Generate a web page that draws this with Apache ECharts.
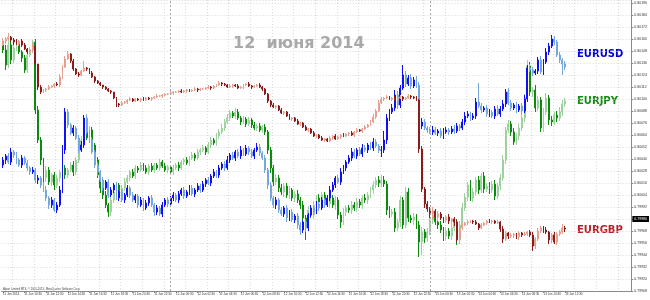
<!DOCTYPE html>
<html><head><meta charset="utf-8">
<script src="https://cdn.jsdelivr.net/npm/echarts/dist/echarts.min.js"></script>
<style>html,body{margin:0;padding:0;background:#fff}#c{width:650px;height:300px}</style>
</head><body><div id="c"></div>
<script>
// Time-axis labels (every 8th M15 bar)
const tickLabels = ["11 Jun 2014","11 Jun 10:30","11 Jun 12:30","11 Jun 14:30","11 Jun 16:30","11 Jun 18:30","11 Jun 20:30","11 Jun 22:30",
"12 Jun 00:30","12 Jun 02:30","12 Jun 04:30","12 Jun 06:30","12 Jun 08:30","12 Jun 10:30","12 Jun 12:30","12 Jun 14:30","12 Jun 16:30","12 Jun 18:30","12 Jun 20:30","12 Jun 22:30",
"13 Jun 00:30","13 Jun 02:30","13 Jun 04:30","13 Jun 06:30","13 Jun 08:30","13 Jun 10:30","13 Jun 12:30"];
const dayStartBars = [62, 158];          // period separators (bar index)
const slotCount = 233;                   // bars + empty chart shift on the right

// EURGBP, points of 0.00001
const gbpOpen0 = 80155;
const gbpClose = [80158,80160,80162,80159,80157,80155,80158,80154,80150,80147,
80149,80153,80135,80112,80107,80109,80110,80112,80113,80115,
80114,80122,80132,80140,80145,80138,80130,80125,80124,80128,
80131,80130,80126,80122,80118,80116,80114,80112,80110,80108,
80107,80101,80095,80094,80096,80097,80099,80100,80098,80100,
80099,80100,80099,80101,80100,80101,80102,80103,80103,80104,
80105,80105,80106,80107,80107,80108,80107,80108,80109,80108,
80109,80110,80109,80110,80110,80111,80112,80111,80113,80114,
80116,80115,80114,80112,80113,80114,80113,80111,80112,80114,
80115,80113,80112,80113,80114,80112,80110,80105,80098,80094,
80092,80093,80089,80086,80087,80083,80080,80081,80078,80075,
80076,80072,80069,80070,80066,80063,80064,80061,80059,80060,
80058,80061,80063,80060,80062,80064,80063,80065,80066,80064,
80067,80069,80068,80070,80072,80074,80077,80082,80088,80096,
80100,80101,80102,80100,80101,80099,80101,80102,80100,80101,
80103,80102,80101,80099,80050,80010,79995,79990,79985,79988,
79982,79985,79981,79979,79982,79978,79980,79977,79960,79971,
79974,79976,79977,79978,79977,79975,79971,79974,79976,79978,
79977,79978,79976,79977,79970,79960,79966,79963,79964,79965,
79962,79966,79964,79965,79967,79964,79953,79960,79968,79971,
79969,79967,79959,79964,79957,79965,79967,79971,79970];
const gbpHiW = [3,2,4,1,2,3,1,2,2,1, 2,3,1,0,2,1,1,2,1,1, 2,3,2,3,3,1,2,1,2,1, 7,1,1,2,1,1,1,0,1,1,
1,0,1,1,2,1,1,2,1,1, 1,1,2,1,1,1,1,2,1,1, 1,1,2,1,1,1,2,1,1,1, 1,2,1,1,1,1,2,1,1,1,
2,1,1,1,2,1,1,2,1,1, 1,2,1,1,1,2,1,1,1,1, 2,1,1,2,1,1,2,1,1,2, 1,1,2,1,1,2,1,1,2,1,
1,2,1,2,1,1,2,1,1,2, 1,2,1,1,2,1,2,3,2,3, 2,1,2,1,1,2,1,2,1,1, 2,1,1,2,1,3,2,3,2,4,
2,3,2,1,2,3,1,2,2,3, 2,1,2,1,1,2,1,2,1,1, 2,1,1,2,1,3,2,1,2,1, 1,2,1,2,1,2,3,2,3,2,
2,3,1,2,3,2,2,4,2];
const gbpLoW = [2,3,1,2,3,1,2,2,1,2, 1,2,2,3,2,1,2,1,1,2, 1,2,2,1,1,2,2,1,2,1, 1,2,1,1,2,1,1,2,1,1,
2,1,3,2,1,1,2,1,1,1, 1,2,1,1,1,2,1,1,1,2, 1,1,1,2,1,1,1,1,2,1, 1,1,2,1,1,1,1,2,1,1,
1,2,1,1,1,2,1,1,1,2, 1,1,2,1,1,1,2,1,2,2, 1,2,1,1,2,1,1,2,1,1, 2,1,1,2,1,1,2,1,1,2,
1,1,2,1,1,2,1,1,2,1, 2,1,1,2,1,1,1,1,2,1, 1,2,1,1,2,1,1,1,2,1, 1,2,1,1,4,3,4,3,4,5,
3,4,2,3,2,3,2,4,3,2, 2,1,2,1,2,1,2,1,1,2, 1,2,1,1,3,4,2,3,2,3, 2,3,2,1,2,2,5,3,2,2,
3,2,4,3,2,3,2,2,3];

// EURUSD, points of 0.00001
const usdOpen0 = 135835;
const usdClose = [135840,135844,135838,135848,135845,135840,135835,135842,135837,135832,
135828,135830,135820,135822,135815,135810,135802,135795,135800,135790,
135795,135810,135850,135888,135875,135867,135872,135862,135850,135855,
135882,135868,135860,135848,135835,135828,135820,135812,135818,135805,
135810,135815,135802,135808,135800,135805,135812,135805,135800,135804,
135795,135800,135792,135797,135802,135795,135788,135792,135786,135795,
135800,135796,135802,135805,135800,135806,135810,135804,135808,135812,
135806,135810,135814,135810,135816,135820,135817,135824,135828,135825,
135832,135836,135832,135840,135845,135842,135848,135844,135850,135846,
135852,135848,135844,135850,135853,135847,135842,135830,135815,135802,
135795,135800,135790,135786,135792,135782,135788,135780,135784,135775,
135770,135778,135772,135785,135792,135788,135796,135792,135800,135795,
135802,135810,135815,135822,135818,135828,135832,135838,135842,135848,
135844,135850,135846,135852,135850,135855,135852,135858,135854,135850,
135850,135860,135882,135888,135892,135905,135895,135912,135925,135916,
135922,135914,135920,135915,135874,135878,135872,135870,135868,135870,
135867,135869,135864,135868,135870,135868,135871,135869,135874,135872,
135878,135884,135886,135882,135884,135898,135894,135890,135892,135886,
135888,135884,135891,135886,135891,135896,135908,135897,135892,135895,
135890,135894,135889,135901,135932,135930,135927,135929,135940,135928,
135938,135948,135954,135961,135958,135945,135940,135936,135933];
const usdHiW = [3,2,3,4,2,3,2,3,2,3, 2,3,2,3,2,3,4,2,3,2, 3,4,5,4,3,2,3,2,3,4, 3,4,2,3,2,3,2,3,2,3,
3,2,3,2,3,2,3,2,3,2, 2,3,2,3,2,3,2,3,2,3, 2,3,2,3,2,3,2,3,2,3, 3,2,3,2,3,2,3,2,3,2,
3,2,3,4,2,3,2,3,4,2, 3,2,3,2,4,3,2,3,2,3, 2,3,2,3,2,3,2,3,2,3, 3,2,3,2,3,2,3,2,3,2,
3,4,3,2,3,4,3,2,3,4, 3,2,3,4,3,2,3,4,3,2, 4,9,4,3,4,5,4,3,10,4, 3,4,3,4,3,4,3,2,3,4,
3,2,3,4,3,2,3,4,3,2, 3,4,3,2,3,4,19,3,2,3, 3,2,3,4,3,4,3,4,3,2, 3,2,3,4,3,4,3,2,3,4,
3,4,3,4,3,2,3,2,3];
const usdLoW = [3,4,2,3,3,4,2,3,2,3, 3,2,3,4,3,2,3,4,3,2, 3,2,3,4,3,2,3,2,3,2, 3,2,3,2,3,4,2,3,2,3,
2,3,2,3,2,3,2,3,2,3, 3,2,3,2,3,2,4,3,2,3, 2,3,2,3,2,3,2,3,2,3, 2,3,2,3,2,3,2,3,2,3,
3,2,3,2,3,2,3,2,3,2, 2,3,2,3,2,3,2,3,4,3, 3,4,3,2,3,4,3,2,3,4, 5,3,4,3,2,3,2,3,2,3,
2,3,2,3,2,3,2,3,2,3, 2,3,2,3,2,3,2,3,2,3, 7,3,4,3,2,3,4,3,2,3, 2,3,2,3,2,3,2,3,2,3,
2,3,2,3,2,3,2,3,2,3, 2,3,2,3,2,3,2,3,2,3, 3,2,3,2,3,2,3,2,3,2, 3,2,3,2,3,2,3,2,3,2,
3,2,3,2,3,2,3,11,3];

// EURJPY, points of 0.001
const jpyOpen0 = 138455;
const jpyClose = [138450,138435,138455,138440,138452,138456,138448,138442,138430,138445,
138450,138458,138390,138360,138340,138322,138330,138318,138325,138315,
138322,138328,138332,138325,138330,138335,138328,138340,138350,138360,
138368,138362,138370,138355,138340,138325,138312,138305,138295,138288,
138300,138308,138315,138305,138312,138318,138322,138328,138324,138332,
138330,138335,138332,138328,138334,138330,138335,138332,138338,138334,
138330,138333,138328,138332,138335,138332,138338,138340,138337,138342,
138345,138342,138348,138350,138352,138348,138355,138360,138357,138364,
138368,138372,138378,138382,138387,138384,138388,138382,138378,138381,
138376,138380,138375,138372,138374,138370,138373,138368,138350,138332,
138318,138322,138312,138308,138314,138305,138310,138302,138306,138300,
138295,138282,138275,138290,138285,138295,138302,138298,138305,138300,
138296,138302,138295,138300,138285,138278,138288,138292,138290,138295,
138292,138298,138295,138302,138300,138305,138310,138315,138320,138317,
138320,138316,138290,138286,138288,138272,138278,138300,138275,138308,
138282,138280,138283,138275,138258,138268,138262,138268,138280,138285,
138278,138275,138270,138264,138269,138264,138272,138278,138260,138275,
138292,138303,138315,138302,138308,138320,138310,138324,138311,138314,
138310,138316,138304,138314,138322,138340,138370,138376,138368,138358,
138364,138372,138382,138402,138434,138408,138410,138392,138400,138372,
138388,138402,138380,138378,138385,138382,138388,138396,138399];
const jpyHiW = [4,5,5,3,3,4,3,2,3,4, 3,2,3,4,3,2,4,3,2,3, 3,2,4,3,2,3,4,3,3,4, 5,3,4,3,2,3,2,3,4,2,
3,4,3,2,3,4,3,2,3,3, 2,3,2,3,2,3,2,2,3,2, 3,2,2,3,2,3,2,2,3,2, 3,2,3,2,3,2,3,3,2,3,
3,4,3,4,3,2,4,3,2,3, 2,3,2,3,2,3,2,3,2,3, 3,4,3,4,3,3,4,2,3,4, 3,4,3,4,3,4,3,4,3,3,
3,4,3,4,3,3,4,3,3,4, 3,4,3,3,4,3,3,4,3,4, 5,4,3,4,3,4,3,4,3,5, 4,3,4,3,4,5,3,4,5,3,
4,3,4,3,4,3,5,4,3,4, 5,4,3,5,4,3,4,3,4,3, 4,3,4,3,4,5,3,4,3,4, 3,4,5,4,6,4,3,5,4,3,
4,5,3,4,3,4,5,4,3];
const jpyLoW = [3,5,3,4,3,3,2,4,3,3, 2,3,4,3,5,6,4,3,4,5, 3,4,3,4,3,2,4,3,3,2, 3,2,4,3,4,3,5,4,3,5,
4,3,2,4,3,3,2,3,2,3, 3,2,3,2,3,2,3,2,3,2, 2,3,2,3,2,3,2,3,2,3, 2,3,2,3,2,3,2,3,2,3,
3,2,3,2,3,2,3,2,3,2, 3,2,3,2,3,2,3,3,4,5, 4,3,4,3,5,3,4,3,4,3, 4,5,15,4,3,4,3,4,3,4,
3,4,3,5,4,6,3,4,3,4, 3,4,3,4,3,4,3,4,3,4, 4,3,5,4,3,4,3,5,4,3, 4,3,5,4,15,13,5,4,3,4,
3,4,3,5,4,3,4,3,5,4, 4,3,4,3,4,3,4,3,4,3, 4,3,4,3,4,3,4,3,4,3, 3,4,3,4,3,4,5,4,3,4,
4,3,5,4,3,4,3,4,3];

const bidPrice = 0.79980;

function buildCandles(open0, close, hiW, loW, pointSize) {
  const out = [];
  for (let i = 0; i < close.length; i++) {
    const o = i === 0 ? open0 : close[i - 1];
    const c = close[i];
    const hi = Math.max(o, c) + hiW[i];
    const lo = Math.min(o, c) - loW[i];
    out.push([o * pointSize, c * pointSize, lo * pointSize, hi * pointSize]);
  }
  return out;
}

const categories = [];
for (let i = 0; i < slotCount; i++) {
  categories.push(i % 8 === 0 && i / 8 < tickLabels.length ? tickLabels[i / 8] : 'b' + i);
}
const lastBar = gbpClose.length - 1;

const chart = echarts.init(document.getElementById('c'), null, {renderer: 'canvas'});
const gridCol = '#d9d9d9';
chart.setOption({
  animation: false,
  backgroundColor: '#ffffff',
  title: {
    text: '12  июня 2014', left: 233, top: 36, padding: 0,
    textStyle: {fontFamily: 'DejaVu Sans', fontWeight: 'bold', fontSize: 16, color: '#a9a9a9'}
  },
  grid: {left: 1, right: 18, top: 0, bottom: 9},
  xAxis: {
    type: 'category', data: categories, boundaryGap: true,
    axisLine: {show: true, lineStyle: {color: '#8a8a8a', width: 1}},
    axisTick: {show: true, alignWithLabel: true, length: 2, lineStyle: {color: '#8a8a8a'},
      interval: (i) => i % 8 === 0 && i <= lastBar},
    axisLabel: {
      interval: (i) => i % 8 === 0 && i <= lastBar,
      align: 'left', margin: 2, fontSize: 3, color: '#333', fontFamily: 'Liberation Sans',
      hideOverlap: false
    },
    splitLine: {show: true, interval: (i) => i % 8 === 4,
      lineStyle: {color: gridCol, type: [1, 2], width: 1}}
  },
  yAxis: [
    {
      type: 'value', position: 'right', min: 0.79908, max: 0.80199, interval: 0.00012, scale: true,
      axisLine: {show: true, lineStyle: {color: '#8a8a8a', width: 1}},
      axisTick: {show: true, length: 2, lineStyle: {color: '#8a8a8a'}},
      axisLabel: {margin: 3, fontSize: 3.5, color: '#333', fontFamily: 'Liberation Sans',
        formatter: (v) => v.toFixed(5)},
      splitLine: {show: true, lineStyle: {color: gridCol, type: [1, 2], width: 1}}
    },
    {type: 'value', min: 1.35709, max: 1.36000, show: false, scale: true},
    {type: 'value', min: 138.209, max: 138.500, show: false, scale: true}
  ],
  series: [
    {
      name: 'EURJPY', type: 'candlestick', yAxisIndex: 2, barWidth: 1.4, silent: true,
      data: buildCandles(jpyOpen0, jpyClose, jpyHiW, jpyLoW, 0.001),
      itemStyle: {color: '#9fd09f', color0: '#0d8a0d', borderColor: '#9fd09f', borderColor0: '#0d8a0d', borderWidth: 1},
      markLine: {
        silent: true, symbol: 'none', label: {show: false},
        lineStyle: {color: '#a8a8a8', type: [2, 2], width: 1},
        data: dayStartBars.map((b) => ({xAxis: categories[b]}))
      }
    },
    {
      name: 'EURUSD', type: 'candlestick', yAxisIndex: 1, barWidth: 1.4, silent: true,
      data: buildCandles(usdOpen0, usdClose, usdHiW, usdLoW, 0.00001),
      itemStyle: {color: '#1010f5', color0: '#74a8dc', borderColor: '#1010f5', borderColor0: '#74a8dc', borderWidth: 1}
    },
    {
      name: 'EURGBP', type: 'candlestick', yAxisIndex: 0, barWidth: 1.4, silent: true,
      data: buildCandles(gbpOpen0, gbpClose, gbpHiW, gbpLoW, 0.00001),
      itemStyle: {color: '#e5a08f', color0: '#8b1c1c', borderColor: '#e5a08f', borderColor0: '#8b1c1c', borderWidth: 1},
      markLine: {
        silent: true, symbol: 'none', precision: 5,
        lineStyle: {color: 'rgba(0,0,0,0)', width: 1, type: 'solid'},
        label: {show: true, position: 'end', distance: 1, formatter: () => bidPrice.toFixed(5),
          backgroundColor: '#000000', color: '#ffffff', fontSize: 3.5, fontFamily: 'Liberation Sans', padding: [1, 2]},
        emphasis: {disabled: true},
        data: [{yAxis: bidPrice}]
      }
    }
  ],
  graphic: [
    {type: 'text', left: 577, top: 49, style: {text: 'EURUSD', fill: '#0000d8', font: 'bold 10px "DejaVu Sans"'}},
    {type: 'text', left: 577, top: 96, style: {text: 'EURJPY', fill: '#138f13', font: 'bold 10px "DejaVu Sans"'}},
    {type: 'text', left: 577, top: 225, style: {text: 'EURGBP', fill: '#bb1f26', font: 'bold 10px "DejaVu Sans"'}},
    {type: 'text', left: 3, top: 288, style: {text: 'Alpari Limited MT4, © 2001-2013, MetaQuotes Software Corp.', fill: '#444', font: '2.8px "Liberation Sans"'}}
  ]
});
</script>
</body></html>
